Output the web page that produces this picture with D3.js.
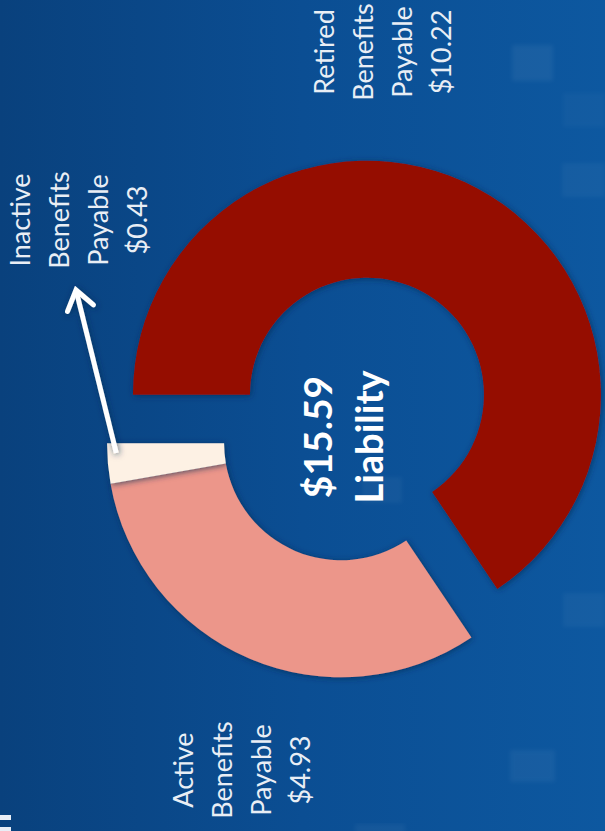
<!DOCTYPE html>
<html>
<head>
<meta charset="utf-8">
<script src="https://cdn.jsdelivr.net/npm/d3@7"></script>
<style>
  html, body { margin: 0; padding: 0; background: #0a4788; }
  svg { display: block; }
</style>
</head>
<body>
<svg id="chart" width="605" height="831"></svg>
<script>
// ---- data ----
const categories = ["Retired Benefits Payable", "Active Benefits Payable", "Inactive Benefits Payable"];
const labelLines = [["Retired", "Benefits", "Payable"], ["Active", "Benefits", "Payable"], ["Inactive", "Benefits", "Payable"]];
const values = [10.22, 4.93, 0.43];
const valueLabels = ["$10.22", "$4.93", "$0.43"];
const explodeGroups = [0, 1, 1];
const totalLabel = "$15.59";
const totalCaption = "Liability";
const colors = ["#950f00", "#ec968a", "#fdf1e4"];

// ---- layout ----
const W = 605, H = 831;
const cx = 354, cy = 419;
const outerR = 234, innerR = 117, explode = 27.5;
const fontFamily = "Lato, 'Open Sans', 'DejaVu Sans', sans-serif";

const svg = d3.select("#chart");
const defs = svg.append("defs");

const grad = defs.append("linearGradient").attr("id", "bg").attr("x1", 0).attr("x2", 1).attr("y1", 0).attr("y2", 0);
grad.append("stop").attr("offset", 0).attr("stop-color", "#09417d");
grad.append("stop").attr("offset", 0.5).attr("stop-color", "#0b4e93");
grad.append("stop").attr("offset", 1).attr("stop-color", "#0d58a0");

const shadow = defs.append("filter").attr("id", "shadow").attr("x", "-20%").attr("y", "-20%").attr("width", "140%").attr("height", "140%");
shadow.append("feDropShadow").attr("dx", 1).attr("dy", 1).attr("stdDeviation", 3)
  .attr("flood-color", "#04264f").attr("flood-opacity", 0.7);

const soft = defs.append("filter").attr("id", "soft");
soft.append("feGaussianBlur").attr("stdDeviation", 2);

svg.append("rect").attr("width", W).attr("height", H).attr("fill", "url(#bg)");

// faint decorative background tiles
const tiles = [[512, 45, 41, 36, 0.05], [563, 93, 42, 34, 0.025], [562, 163, 43, 34, 0.035], [563, 593, 42, 34, 0.035], [510, 750, 45, 32, 0.045], [362, 477, 40, 26, 0.035], [355, 824, 50, 10, 0.04]];
svg.append("g").selectAll("rect").data(tiles).join("rect")
  .attr("x", d => d[0]).attr("y", d => d[1]).attr("width", d => d[2]).attr("height", d => d[3])
  .attr("fill", "#ffffff").attr("opacity", d => d[4]).attr("filter", "url(#soft)");

// small white bars bottom-left
svg.append("rect").attr("x", 0).attr("y", 815).attr("width", 11).attr("height", 5).attr("fill", "#e8eef6");
svg.append("rect").attr("x", 0).attr("y", 827).attr("width", 11).attr("height", 4).attr("fill", "#e8eef6");

// ---- pie ----
const pie = d3.pie().sort(null).startAngle(1.5 * Math.PI).endAngle(3.5 * Math.PI);
const arcs = pie(values);
const arc = d3.arc().innerRadius(innerR).outerRadius(outerR);

// explosion offset per group (along group's mid-angle)
const groupOffset = {};
d3.groups(arcs.map((a, i) => ({a, g: explodeGroups[i]})), d => d.g).forEach(([g, items]) => {
  const s = d3.min(items, d => d.a.startAngle), e = d3.max(items, d => d.a.endAngle);
  const m = (s + e) / 2;
  groupOffset[g] = [explode * Math.sin(m), -explode * Math.cos(m)];
});

const pieG = svg.append("g").attr("transform", `translate(${cx},${cy})`);
pieG.selectAll("g.slice").data(arcs).join("g")
  .attr("class", "slice")
  .attr("filter", "url(#shadow)")
  .attr("transform", (d, i) => `translate(${groupOffset[explodeGroups[i]][0]},${groupOffset[explodeGroups[i]][1]})`)
  .append("path")
  .attr("d", arc)
  .attr("fill", (d, i) => colors[i]);

// ---- arrow from inactive slice to its label ----
const ia = arcs[2];
const ioff = groupOffset[explodeGroups[2]];
const aAng = ia.endAngle - 0.25 * (ia.endAngle - ia.startAngle);
const aR = outerR - 9;
const ax0 = cx + ioff[0] + aR * Math.sin(aAng), ay0 = cy + ioff[1] - aR * Math.cos(aAng);
const ax1 = 76, ay1 = 290;
const ang = Math.atan2(ay1 - ay0, ax1 - ax0);
const wing = 23, spread = 0.62;
const w1 = [ax1 - wing * Math.cos(ang - spread), ay1 - wing * Math.sin(ang - spread)];
const w2 = [ax1 - wing * Math.cos(ang + spread), ay1 - wing * Math.sin(ang + spread)];
const arrowG = svg.append("g").attr("filter", "url(#shadow)");
arrowG.append("line").attr("x1", ax0).attr("y1", ay0).attr("x2", ax1).attr("y2", ay1)
  .attr("stroke", "#ffffff").attr("stroke-width", 5);
arrowG.append("path").attr("d", `M${w1[0]},${w1[1]}L${ax1},${ay1}L${w2[0]},${w2[1]}`)
  .attr("fill", "none").attr("stroke", "#ffffff").attr("stroke-width", 5)
  .attr("stroke-linecap", "round").attr("stroke-linejoin", "miter");

// ---- labels (rotated -90) ----
const labelAnchors = [[334, 52], [193, 770], [30, 220]]; // [first baseline x, centre y]
const lineStep = 39;
labelLines.forEach((lines, i) => {
  const g = svg.append("g").attr("transform", `translate(${labelAnchors[i][0]},${labelAnchors[i][1]}) rotate(-90)`);
  lines.concat([valueLabels[i]]).forEach((t, k) => {
    g.append("text").attr("x", 0).attr("y", k * lineStep)
      .attr("text-anchor", "middle")
      .attr("font-family", fontFamily).attr("font-size", 27).attr("font-weight", 400)
      .attr("fill", "#e9eef5").text(t);
  });
});

// ---- centre text ----
const cg = svg.append("g").attr("transform", `translate(${cx - 22},${cy + 18}) rotate(-90)`);
cg.append("text").attr("x", 0).attr("y", 0).attr("text-anchor", "middle")
  .attr("font-family", fontFamily).attr("font-size", 39).attr("font-weight", 700)
  .attr("fill", "#ffffff").text(totalLabel);
cg.append("text").attr("x", 0).attr("y", 51).attr("text-anchor", "middle")
  .attr("font-family", fontFamily).attr("font-size", 38).attr("font-weight", 700)
  .attr("fill", "#ffffff").text(totalCaption);
</script>
</body>
</html>
